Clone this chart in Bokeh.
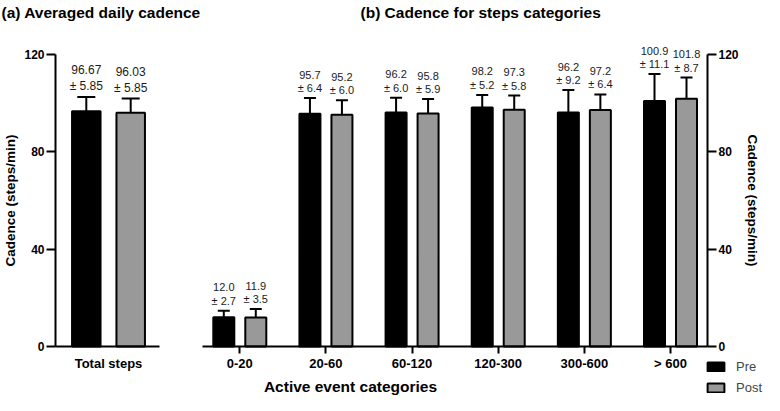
import math
from bokeh.plotting import figure
from bokeh.models import (ColumnDataSource, Whisker, TeeHead, FixedTicker, Range1d,
                          LinearAxis, Label, Legend, LegendItem)
from bokeh.embed import file_html
from bokeh.resources import INLINE
from bokeh.core.properties import value

# ---------------- data ----------------
total_categories = ["Total steps"]
total_pre_mean = [96.67]
total_pre_sd = [5.85]
total_post_mean = [96.03]
total_post_sd = [5.85]

categories = ["0-20", "20-60", "60-120", "120-300", "300-600", "> 600"]
pre_mean = [12.0, 95.7, 96.2, 98.2, 96.2, 100.9]
pre_sd = [2.7, 6.4, 6.0, 5.2, 9.2, 11.1]
post_mean = [11.9, 95.2, 95.8, 97.3, 97.2, 101.8]
post_sd = [3.5, 6.0, 5.9, 5.8, 6.4, 8.7]

series = ["Pre", "Post"]
y_ticks = [0, 40, 80, 120]
y_axis_max = 120

# ---------------- layout (pixels) ----------------
W, H = 764, 395
FONT = "Liberation Sans"
COLORS = {"Pre": "#000000", "Post": "#999999"}

Y0_PX, Y120_PX = 346, 54              # screen rows of y=0 and y=120
SY = (Y0_PX - Y120_PX) / 120.0          # px per unit
Y_START = -(H - Y0_PX) / SY
Y_END = Y0_PX / SY

# right panel: category 0 centre and spacing
R0_PX, R_STEP = 239.3, 86.14
R_START = -R0_PX / R_STEP
R_END = (W - R0_PX) / R_STEP
# left panel
L0_PX, L_STEP = 108.0, 100.0
L_START = -L0_PX / L_STEP
L_END = (W - L0_PX) / L_STEP


def rx(px):
    return (px - R0_PX) / R_STEP


def lx(px):
    return (px - L0_PX) / L_STEP


def yv(py):
    return (Y0_PX - py) / SY


p = figure(width=W, height=H, x_range=Range1d(R_START, R_END),
           y_range=Range1d(Y_START, Y_END), x_axis_type=None, y_axis_type=None,
           output_backend="svg", toolbar_location=None)
p.extra_x_ranges = {"left": Range1d(L_START, L_END)}
p.min_border_left = p.min_border_right = p.min_border_top = p.min_border_bottom = 0
p.outline_line_color = None
p.xgrid.visible = False
p.ygrid.visible = False
p.background_fill_color = "white"
p.border_fill_color = "white"


def style_axis(ax):
    ax.axis_line_width = 2
    ax.axis_line_color = "black"
    ax.major_tick_line_width = 2
    ax.major_tick_line_color = "black"
    ax.major_tick_in = 0
    ax.minor_tick_line_color = None
    ax.major_label_text_font = FONT
    ax.major_label_text_font_style = "bold"
    ax.major_label_text_color = "black"


def xaxis(range_name, cats, bounds, ticks_visible):
    kw = {} if range_name is None else {"x_range_name": range_name}
    ax = LinearAxis(fixed_location=0, **kw)
    style_axis(ax)
    ax.ticker = FixedTicker(ticks=list(range(len(cats))))
    ax.major_label_overrides = {i: c for i, c in enumerate(cats)}
    ax.bounds = bounds
    ax.major_tick_out = 7
    ax.major_label_standoff = 2
    ax.major_label_text_font_size = "13px"
    if not ticks_visible:
        ax.major_tick_line_color = None
    p.add_layout(ax, "below")


def yaxis(range_name, loc, side):
    kw = {} if range_name is None else {"x_range_name": range_name}
    ax = LinearAxis(fixed_location=loc, **kw)
    style_axis(ax)
    ax.ticker = FixedTicker(ticks=y_ticks)
    ax.bounds = (0, y_axis_max)
    ax.major_tick_out = 9
    ax.major_label_standoff = 2
    ax.major_label_text_font_size = "12px"
    ax.axis_label = "Cadence (steps/min)"
    ax.axis_label_text_font = FONT
    ax.axis_label_text_font_style = "bold"
    ax.axis_label_text_font_size = "13.5px"
    ax.axis_label_text_color = "black"
    ax.axis_label_standoff = 3
    p.add_layout(ax, side)


xaxis("left", total_categories, (lx(55), lx(159)), False)
xaxis(None, categories, (rx(202), rx(707)), True)
yaxis("left", lx(55), "left")
yaxis(None, rx(707), "right")


def add_bars(range_name, xs, means, sds, offset, width, name, cap, fmt, fsize):
    kw = {} if range_name is None else {"x_range_name": range_name}
    src = ColumnDataSource(dict(
        x=[x + offset for x in xs],
        top=means,
        upper=[m + s for m, s in zip(means, sds)],
        label=[(fmt % m) + "\n\u00b1 " + (fmt % s) for m, s in zip(means, sds)],
    ))
    w = Whisker(base="x", lower="top", upper="upper", source=src,
                line_width=2, line_color="black",
                upper_head=TeeHead(size=cap, line_width=2, line_color="black"),
                lower_head=None, **kw)
    p.add_layout(w)
    r = p.vbar(x="x", top="top", bottom=0, width=width, source=src,
               fill_color=COLORS[name], line_color="black", line_width=2, **kw)
    p.text(x="x", y="upper", text="label", source=src, text_align="center",
           text_baseline="bottom", y_offset=-4, text_font=value(FONT),
           text_font_size=fsize, text_color="#1a1a1a", text_line_height=1.12, **kw)
    return r


xs_l = list(range(len(total_categories)))
add_bars("left", xs_l, total_pre_mean, total_pre_sd, -22.2 / L_STEP, 28.5 / L_STEP,
         "Pre", 18, "%.2f", "12px")
add_bars("left", xs_l, total_post_mean, total_post_sd, 22.2 / L_STEP, 28.5 / L_STEP,
         "Post", 18, "%.2f", "12px")

xs_r = list(range(len(categories)))
r_pre = add_bars(None, xs_r, pre_mean, pre_sd, -16.0 / R_STEP, 21.0 / R_STEP,
                 "Pre", 12, "%.1f", "11px")
r_post = add_bars(None, xs_r, post_mean, post_sd, 16.0 / R_STEP, 21.0 / R_STEP,
                  "Post", 12, "%.1f", "11px")

# titles and x-axis title
title_kw = dict(text_font=FONT, text_font_style="bold", text_font_size="15.5px",
                text_color="black", text_baseline="middle")
p.add_layout(Label(x=lx(1), y=yv(12), x_range_name="left",
                   text="(a) Averaged daily cadence", text_align="left", **title_kw))
p.add_layout(Label(x=rx(360), y=yv(12),
                   text="(b) Cadence for steps categories", text_align="left", **title_kw))
p.add_layout(Label(x=rx(350), y=yv(386),
                   text="Active event categories", text_align="center", **title_kw))

legend = Legend(items=[LegendItem(label=series[0], renderers=[r_pre]),
                       LegendItem(label=series[1], renderers=[r_post])],
                location=(705, 0), orientation="vertical",
                glyph_width=21, glyph_height=11, label_height=15, spacing=6,
                padding=0, margin=0, label_standoff=10,
                label_text_font=FONT, label_text_font_size="13px",
                border_line_color=None, background_fill_alpha=0)
p.add_layout(legend, "center")

open("out.html", "w").write(file_html(p, INLINE))
